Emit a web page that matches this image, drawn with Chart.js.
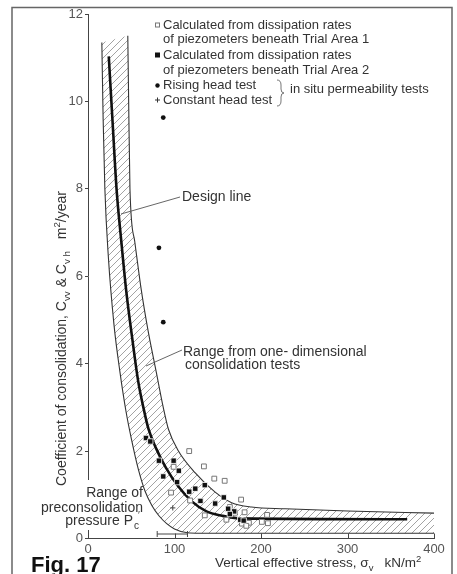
<!DOCTYPE html>
<html>
<head>
<meta charset="utf-8">
<script src="https://cdn.jsdelivr.net/npm/chart.js@4.4.1/dist/chart.umd.min.js"></script>
<style>
  html, body { margin: 0; padding: 0; background: #fff; }
  #wrap { width: 457px; height: 574px; }
</style>
</head>
<body>
<div id="wrap"><canvas id="cvChart" width="457" height="574"></canvas></div>
<script>
const xTicks = [0, 100, 200, 300, 400];
const yTicks = [0, 2, 4, 6, 8, 10, 12];

// Calculated from dissipation rates, Trial Area 1 (open squares)
const area1X = [117, 134, 146, 158, 99, 96, 118, 135, 160, 177, 164, 170, 181, 178, 186, 183, 201, 208, 207];
const area1Y = [2.00, 1.65, 1.37, 1.32, 1.64, 1.05, 0.87, 0.53, 0.43, 0.89, 0.72, 0.59, 0.60, 0.34, 0.36, 0.29, 0.38, 0.35, 0.54];

// Calculated from dissipation rates, Trial Area 2 (filled squares)
const area2X = [67, 72, 82, 99, 105, 87, 103, 117, 124, 135, 130, 147, 157, 162, 169, 164, 176, 180];
const area2Y = [2.30, 2.22, 1.78, 1.78, 1.55, 1.42, 1.29, 1.07, 1.14, 1.22, 0.86, 0.80, 0.94, 0.68, 0.62, 0.56, 0.43, 0.41];

// in situ permeability tests
const risingX = [87, 82, 87];
const risingY = [9.63, 6.65, 4.95];
const constantX = [98];
const constantY = [0.70];

// design line
const designX = [24, 28.5, 33, 38.5, 44, 51, 58, 64, 70, 79, 90, 104, 120, 137, 155, 175, 369];
const designY = [11.03, 9.5, 8, 6.8, 5.7, 4.6, 3.6, 3.0, 2.5, 2.05, 1.62, 1.2, 0.85, 0.62, 0.52, 0.46, 0.44];

// range from one-dimensional consolidation tests
const upperX = [46, 47, 48.5, 54, 61.5, 69.5, 79, 87, 93, 104, 124, 147, 166, 189, 228, 300, 400];
const upperY = [11.5, 10, 8, 6.8, 5.7, 4.75, 3.8, 3.0, 2.5, 2.02, 1.5, 1.06, 0.82, 0.72, 0.68, 0.63, 0.58];
const lowerX = [16, 17.5, 19.5, 23.5, 30, 37, 44, 51, 58, 66, 74, 82, 91, 100, 115, 130, 400];
const lowerY = [11.35, 9.6, 8, 6.45, 4.9, 3.8, 2.9, 2.2, 1.6, 1.08, 0.75, 0.52, 0.34, 0.22, 0.13, 0.12, 0.12];

// range of preconsolidation pressure
const preconRange = [80, 115];

const FONT = "'Liberation Sans', Arial, sans-serif";
const toXY = (xs, ys) => xs.map((x, i) => ({ x: x, y: ys[i] }));

// diagonal hatch for the band
const hatch = document.createElement('canvas');
hatch.width = 7; hatch.height = 7;
(function () {
  const g = hatch.getContext('2d');
  g.strokeStyle = '#8c8c8c';
  g.lineWidth = 0.8;
  g.beginPath();
  g.moveTo(-1, 8); g.lineTo(8, -1);
  g.moveTo(-1, 1); g.lineTo(1, -1);
  g.moveTo(6, 8); g.lineTo(8, 6);
  g.stroke();
})();

const IDX_UPPER = 5, IDX_LOWER = 6;

// follow the same curves chart.js drew (monotone control points)
function curveTo(ctx, prev, cur, flip) {
  if (prev.cp2x === undefined) { ctx.lineTo(cur.x, cur.y); return; }
  ctx.bezierCurveTo(
    flip ? prev.cp1x : prev.cp2x, flip ? prev.cp1y : prev.cp2y,
    flip ? cur.cp2x : cur.cp1x, flip ? cur.cp2y : cur.cp1y,
    cur.x, cur.y);
}

const bandPlugin = {
  id: 'band',
  beforeDraw(chart) {
    const ctx = chart.ctx;
    ctx.save();
    ctx.fillStyle = '#fff';
    ctx.fillRect(0, 0, chart.width, chart.height);
    ctx.restore();
  },
  beforeDatasetsDraw(chart) {
    const lo = chart.getDatasetMeta(IDX_LOWER).data;
    const up = chart.getDatasetMeta(IDX_UPPER).data;
    const ctx = chart.ctx;
    const a = chart.chartArea;
    ctx.save();
    ctx.beginPath();
    ctx.rect(a.left, a.top, a.width, a.height);
    ctx.clip();
    ctx.beginPath();
    ctx.moveTo(lo[0].x, lo[0].y);
    for (let i = 1; i < lo.length; i++) curveTo(ctx, lo[i - 1], lo[i], false);
    ctx.lineTo(up[up.length - 1].x, up[up.length - 1].y);
    for (let i = up.length - 2; i >= 0; i--) curveTo(ctx, up[i + 1], up[i], true);
    ctx.closePath();
    ctx.fillStyle = ctx.createPattern(hatch, 'repeat');
    ctx.fill();
    ctx.restore();
  }
};

// draw a string made of runs, some of them sub/superscript
function drawRuns(ctx, runs, x, y, size) {
  runs.forEach(r => {
    const s = r.sub || r.sup ? size * 0.7 : size;
    ctx.font = s + 'px ' + FONT;
    const dy = r.sub ? size * 0.3 : (r.sup ? -size * 0.4 : 0);
    ctx.fillText(r.t, x, y + dy);
    x += ctx.measureText(r.t).width;
  });
}

const notesPlugin = {
  id: 'notes',
  afterDraw(chart) {
    const ctx = chart.ctx;
    const xs = chart.scales.x, ys = chart.scales.y;
    ctx.save();

    // frame of the figure
    ctx.strokeStyle = '#666';
    ctx.lineWidth = 1.5;
    ctx.beginPath();
    ctx.moveTo(12, 590); ctx.lineTo(12, 7.5); ctx.lineTo(452, 7.5); ctx.lineTo(452, 590);
    ctx.stroke();

    // inward ticks on the x axis
    ctx.strokeStyle = '#444';
    ctx.lineWidth = 1;
    ctx.beginPath();
    xTicks.forEach(v => {
      const px = Math.round(xs.getPixelForValue(v)) + 0.5;
      ctx.moveTo(px, ys.bottom); ctx.lineTo(px, ys.bottom - 5);
    });
    ctx.stroke();

    // range of preconsolidation pressure
    const p0 = xs.getPixelForValue(preconRange[0]);
    const p1 = xs.getPixelForValue(preconRange[1]);
    const py = ys.bottom - 4.5;
    ctx.beginPath();
    ctx.moveTo(p0, py); ctx.lineTo(p1, py);
    ctx.moveTo(p0, py - 3); ctx.lineTo(p0, py + 3);
    ctx.moveTo(p1, py - 3); ctx.lineTo(p1, py + 3);
    ctx.stroke();

    // white gap in the y axis behind the label
    ctx.fillStyle = '#fff';
    ctx.fillRect(84, 480, 8, 50);

    ctx.fillStyle = '#333';
    ctx.textBaseline = 'middle';

    // legend block
    ctx.font = '13px ' + FONT;
    const lx = 163;
    const rows = [25, 39.5, 55, 70, 85.5, 100];
    ctx.textAlign = 'left';
    ctx.fillText('Calculated from dissipation rates', lx, rows[0]);
    ctx.fillText('of piezometers beneath Trial Area 1', lx, rows[1]);
    ctx.fillText('Calculated from dissipation rates', lx, rows[2]);
    ctx.fillText('of piezometers beneath Trial Area 2', lx, rows[3]);
    ctx.fillText('Rising head test', lx, rows[4]);
    ctx.fillText('Constant head test', lx, rows[5]);
    ctx.fillText('in situ permeability tests', 290, 89);

    ctx.strokeStyle = '#777';
    ctx.lineWidth = 1;
    ctx.strokeRect(155.5, rows[0] - 2, 4, 4);
    ctx.fillStyle = '#111';
    ctx.fillRect(155, rows[2] - 2.5, 5, 5);
    ctx.beginPath(); ctx.arc(157.5, rows[4], 2.2, 0, Math.PI * 2); ctx.fill();
    ctx.strokeStyle = '#333';
    ctx.beginPath();
    ctx.moveTo(155, rows[5]); ctx.lineTo(160, rows[5]);
    ctx.moveTo(157.5, rows[5] - 2.5); ctx.lineTo(157.5, rows[5] + 2.5);
    ctx.stroke();

    // brace
    ctx.strokeStyle = '#666';
    ctx.lineWidth = 0.9;
    ctx.beginPath();
    ctx.moveTo(277, 80);
    ctx.quadraticCurveTo(281, 80, 281, 85);
    ctx.lineTo(281, 89);
    ctx.quadraticCurveTo(281, 93, 284, 93);
    ctx.quadraticCurveTo(281, 93, 281, 97);
    ctx.lineTo(281, 101);
    ctx.quadraticCurveTo(281, 106, 277, 106);
    ctx.stroke();

    // design line label
    ctx.fillStyle = '#333';
    ctx.font = '14px ' + FONT;
    ctx.fillText('Design line', 182, 197);
    ctx.strokeStyle = '#555';
    ctx.beginPath(); ctx.moveTo(121, 214); ctx.lineTo(180, 197); ctx.stroke();

    // band label
    ctx.fillText('Range from one- dimensional', 183, 352);
    ctx.fillText('consolidation tests', 185, 365);
    ctx.beginPath(); ctx.moveTo(146, 366); ctx.lineTo(182, 350); ctx.stroke();

    // preconsolidation label
    ctx.textAlign = 'right';
    ctx.fillText('Range of', 143, 493);
    ctx.fillText('preconsolidation', 143, 508);
    ctx.fillText('pressure P', 133, 521);
    ctx.textAlign = 'left';
    ctx.font = '10px ' + FONT;
    ctx.fillText('c', 134, 526);
    ctx.fillText('\u2032', 138, 516);

    // axis titles
    ctx.textBaseline = 'alphabetic';
    ctx.fillStyle = '#333';
    drawRuns(ctx, [
      { t: 'Vertical effective stress, \u03c3' }, { t: 'v', sub: true },
      { t: '   kN/m' }, { t: '2', sup: true }
    ], 215, 567, 13.5);

    ctx.save();
    ctx.translate(66, 486);
    ctx.rotate(-Math.PI / 2);
    drawRuns(ctx, [
      { t: 'Coefficient of consolidation, C' }, { t: 'vv', sub: true },
      { t: ' & C' }, { t: 'v h', sub: true },
      { t: '   m' }, { t: '2', sup: true }, { t: '/year' }
    ], 0, 0, 14);
    ctx.restore();

    // figure number
    ctx.fillStyle = '#111';
    ctx.font = 'bold 22px ' + FONT;
    ctx.fillText('Fig. 17', 31, 572);

    ctx.restore();
  }
};

const tickFont = { family: FONT, size: 13 };
const curve = { showLine: true, pointRadius: 0, cubicInterpolationMode: 'monotone' };

new Chart(document.getElementById('cvChart'), {
  type: 'scatter',
  data: {
    datasets: [
      { label: 'Rising head test', data: toXY(risingX, risingY),
        pointStyle: 'circle', pointRadius: 2.4, backgroundColor: '#111', borderColor: '#111', borderWidth: 0 },
      { label: 'Constant head test', data: toXY(constantX, constantY),
        pointStyle: 'cross', pointRadius: 2.6, borderColor: '#444', borderWidth: 1 },
      { label: 'Trial Area 2', data: toXY(area2X, area2Y),
        pointStyle: 'rect', pointRadius: 3.8, backgroundColor: '#111', borderColor: '#fff', borderWidth: 0.8 },
      { label: 'Trial Area 1', data: toXY(area1X, area1Y),
        pointStyle: 'rect', pointRadius: 3.4, backgroundColor: '#fff', borderColor: '#777', borderWidth: 1 },
      Object.assign({ label: 'Design line', data: toXY(designX, designY),
        borderColor: '#111', borderWidth: 2.6 }, curve),
      Object.assign({ label: 'Upper', data: toXY(upperX, upperY),
        borderColor: '#333', borderWidth: 1.1 }, curve),
      Object.assign({ label: 'Lower', data: toXY(lowerX, lowerY),
        borderColor: '#333', borderWidth: 1.1 }, curve)
    ]
  },
  options: {
    responsive: false,
    animation: false,
    layout: { padding: { top: 14, right: 23, left: 0, bottom: 0 } },
    plugins: { legend: { display: false }, tooltip: { enabled: false } },
    scales: {
      x: {
        type: 'linear', min: 0, max: 400,
        afterBuildTicks: s => { s.ticks = xTicks.map(v => ({ value: v })); },
        afterFit: s => { s.height = 35.5; },
        grid: { display: false, drawTicks: false },
        border: { display: true, color: '#444', width: 1 },
        ticks: { font: tickFont, color: '#555', padding: 3, maxRotation: 0 }
      },
      y: {
        type: 'linear', min: 0, max: 12,
        afterBuildTicks: s => { s.ticks = yTicks.map(v => ({ value: v })); },
        afterFit: s => { s.width = 88; },
        grid: { drawOnChartArea: false, drawTicks: true, tickLength: 3, color: '#444' },
        border: { display: true, color: '#444', width: 1 },
        ticks: { font: tickFont, color: '#555', padding: 2 }
      }
    }
  },
  plugins: [bandPlugin, notesPlugin]
});
</script>
</body>
</html>
